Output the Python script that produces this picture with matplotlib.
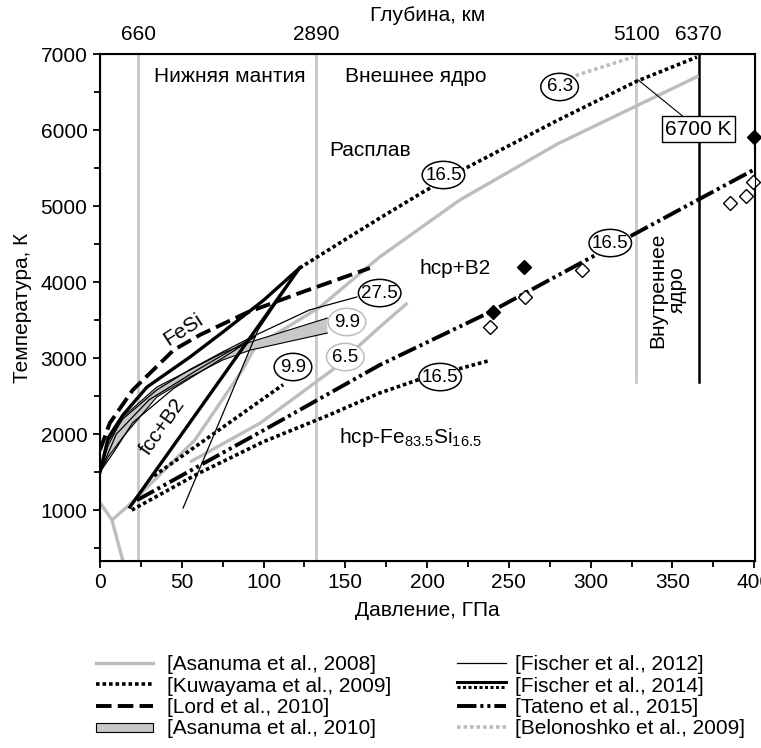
import matplotlib
matplotlib.use("Agg")
import matplotlib.pyplot as plt
import matplotlib.patches as mpatches
from matplotlib.lines import Line2D
from matplotlib.legend_handler import HandlerBase, HandlerPatch

plt.rcParams["font.family"] = ["Liberation Sans", "DejaVu Sans"]
plt.rcParams["mathtext.fontset"] = "custom"
plt.rcParams["mathtext.rm"] = "Liberation Sans"
plt.rcParams["mathtext.it"] = "Liberation Sans:italic"

FS = 15
GRAY = "#bdbdbd"
LGRAY = "#c8c8c8"

# depth scale along the top
DEPTH_P = [23.5, 132, 328, 366]
DEPTH_KM = ["660", "2890", "5100", "6370"]

# Asanuma et al., 2008
AS08_MAIN_P = [7.3, 17, 58, 87, 95, 134.5, 171, 220, 280, 366]
AS08_MAIN_T = [870, 1050, 1920, 2840, 3150, 3671, 4329, 5079, 5820, 6711]
AS08_LOW_P = [55, 98, 142, 171, 188]
AS08_LOW_T = [1632, 2145, 2842, 3408, 3724]
AS08_EDGE_P = [0, 7.3, 14]
AS08_EDGE_T = [1100, 870, 330]

# Asanuma et al., 2010 (band)
AS10_UP_P = [0, 5, 14, 34.7, 55, 75, 92, 139]
AS10_UP_T = [1500, 1850, 2224, 2618, 2842, 3066, 3211, 3526]
AS10_LO_P = [0, 5, 14, 34.7, 55, 75, 92, 139]
AS10_LO_T = [1500, 1700, 1960, 2487, 2750, 2974, 3105, 3329]

# Fischer et al., 2012
F12_A_P = [0, 5, 14, 34.7, 55, 75, 95, 128, 157]
F12_A_T = [1500, 1900, 2200, 2580, 2850, 3080, 3300, 3632, 3803]
F12_B_P = [0, 10, 30, 60, 95]
F12_B_T = [1500, 2000, 2450, 2850, 3290]
F12_C_P = [0, 8, 20, 45, 75, 95]
F12_C_T = [1500, 1750, 2150, 2600, 3000, 3280]
F12_D_P = [50.8, 96.6, 118]
F12_D_T = [1026, 3368, 4050]

# Fischer et al., 2014: measured (solid) and extrapolated (dotted)
F14_CURVE_P = [0, 5, 14, 28.7, 55, 75, 100, 122]
F14_CURVE_T = [1500, 1950, 2250, 2618, 3013, 3340, 3760, 4184]
F14_LINE_P = [18.3, 122]
F14_LINE_T = [1040, 4184]
F14_EXT_P = [122, 150, 171, 198, 222, 280, 328, 365]
F14_EXT_T = [4184, 4560, 4840, 5190, 5480, 6130, 6640, 6960]

# Kuwayama et al., 2009
KU_A_P = [33, 112]
KU_A_T = [1450, 2650]
KU_B_P = [19.4, 60, 100, 140, 171, 194, 237]
KU_B_T = [1000, 1480, 1900, 2250, 2540, 2710, 2960]

# Lord et al., 2010
LORD_P = [0, 6, 20, 45, 61, 90, 122, 165]
LORD_T = [1789, 2145, 2579, 3105, 3303, 3600, 3855, 4184]

# Tateno et al., 2015
TAT_P = [22.6, 100, 171, 238.5, 312, 400]
TAT_T = [1130, 2050, 2908, 3605, 4460, 5480]
TAT_OPEN_P = [238.5, 260, 295, 385, 395, 399.5]
TAT_OPEN_T = [3408, 3803, 4158, 5040, 5132, 5316]
TAT_FILL_P = [240, 259, 400]
TAT_FILL_T = [3605, 4197, 5908]

# Belonoshko et al., 2009
BEL_P = [287, 326]
BEL_T = [6690, 6960]

# Si content tags on the curves
TAGS_P = [281, 210, 171, 151, 150, 118, 312, 208]
TAGS_T = [6566, 5408, 3855, 3474, 3013, 2882, 4513, 2750]
TAGS_TXT = ["6.3", "16.5", "27.5", "9.9", "6.5", "9.9", "16.5", "16.5"]
TAGS_EC = ["black", "black", "black", GRAY, GRAY, "black", "black", "black"]

DOT = (0, (1, 0.8))
DASH = (0, (4, 1.6))
DASHDOT = (0, (5, 1, 0.8, 1, 0.8, 1))


class SolidOverDotted(HandlerBase):
    def create_artists(self, legend, orig_handle, xdescent, ydescent,
                       width, height, fontsize, trans):
        y = height / 2 - ydescent
        xs = [-xdescent, width - xdescent]
        top = Line2D(xs, [y + 1.8, y + 1.8], color="black", lw=2.2)
        bot = Line2D(xs, [y - 1.8, y - 1.8], color="black", lw=2.2, linestyle=DOT)
        top.set_transform(trans)
        bot.set_transform(trans)
        return [top, bot]


def thin_rect(legend, orig_handle, xdescent, ydescent, width, height, fontsize):
    return mpatches.Rectangle((-xdescent, height / 2 - ydescent - 3.2), width, 6.4)


fig = plt.figure(figsize=(7.61, 7.48), dpi=100)
ax = fig.add_axes([100 / 761, (748 - 561) / 748, 655 / 761, 507 / 748])
ax.set_xlim(0, 400.5)
ax.set_ylim(330, 7000)

# region boundaries
for p in DEPTH_P[:2]:
    ax.axvline(p, color=LGRAY, lw=2, zorder=1)
ax.plot([DEPTH_P[2]] * 2, [2680, 7000], color=LGRAY, lw=2, zorder=1)
ax.plot([DEPTH_P[3]] * 2, [2680, 7000], color="black", lw=1.8, zorder=1)

# Asanuma 2008
for xs, ys in [(AS08_MAIN_P, AS08_MAIN_T), (AS08_LOW_P, AS08_LOW_T), (AS08_EDGE_P, AS08_EDGE_T)]:
    ax.plot(xs, ys, color=GRAY, lw=2.4, zorder=2, solid_capstyle="butt")

# Asanuma 2010 band
ax.fill_between(AS10_UP_P, AS10_LO_T, AS10_UP_T, facecolor=LGRAY, edgecolor="none", zorder=2)
ax.plot(AS10_UP_P, AS10_UP_T, color="black", lw=0.8, zorder=3)
ax.plot(AS10_LO_P, AS10_LO_T, color="black", lw=0.8, zorder=3)

# Fischer 2012
for xs, ys in [(F12_A_P, F12_A_T), (F12_B_P, F12_B_T), (F12_C_P, F12_C_T), (F12_D_P, F12_D_T)]:
    ax.plot(xs, ys, color="black", lw=0.9, zorder=3)

# Fischer 2014
ax.plot(F14_CURVE_P, F14_CURVE_T, color="black", lw=2.4, zorder=4)
ax.plot(F14_LINE_P, F14_LINE_T, color="black", lw=2.4, zorder=4)
ax.plot(F14_EXT_P, F14_EXT_T, color="black", lw=2.6, linestyle=DOT, zorder=4)

# Kuwayama 2009
ax.plot(KU_A_P, KU_A_T, color="black", lw=2.6, linestyle=DOT, zorder=4)
ax.plot(KU_B_P, KU_B_T, color="black", lw=2.6, linestyle=DOT, zorder=4)

# Lord 2010
ax.plot(LORD_P, LORD_T, color="black", lw=2.8, linestyle=DASH, zorder=4)

# Tateno 2015
ax.plot(TAT_P, TAT_T, color="black", lw=2.8, linestyle=DASHDOT, zorder=4)
ax.plot(TAT_OPEN_P, TAT_OPEN_T, "D", ms=7, mfc="white", mec="black", mew=1, zorder=6, clip_on=False)
ax.plot(TAT_FILL_P, TAT_FILL_T, "D", ms=7, color="black", zorder=6, clip_on=False)

# Belonoshko 2009
ax.plot(BEL_P, BEL_T, color=GRAY, lw=2.6, linestyle=DOT, zorder=4)

# oval tags: width in GPa follows the label length, height in K
for p, t, s, ec in zip(TAGS_P, TAGS_T, TAGS_TXT, TAGS_EC):
    w = 26 if len(s) > 3 else 23
    ax.add_patch(mpatches.Ellipse((p, t), w, 360, fc="white", ec=ec, lw=1.1, zorder=7))
    ax.text(p, t, s, ha="center", va="center", fontsize=13.5, zorder=8)

ax.annotate("6700 K", xy=(329, 6660), xytext=(366, 6013), ha="center", va="center",
            fontsize=FS, zorder=8,
            bbox=dict(boxstyle="square,pad=0.15", fc="white", ec="black", lw=1),
            arrowprops=dict(arrowstyle="-", lw=0.8, color="black", shrinkA=0, shrinkB=0))

ax.text(79.5, 6700, "Нижняя мантия", ha="center", va="center", fontsize=FS)
ax.text(193, 6700, "Внешнее ядро", ha="center", va="center", fontsize=FS)
ax.text(165, 5737, "Расплав", ha="center", va="center", fontsize=FS)
ax.text(217, 4184, "hcp+B2", ha="center", va="center", fontsize=FS)
ax.text(51, 3368, "FeSi", ha="center", va="center", fontsize=FS, rotation=33)
ax.text(38, 2092, "fcc+B2", ha="center", va="center", fontsize=FS, rotation=55)
ax.text(190, 1960, "hcp-Fe$_{83.5}$Si$_{16.5}$", ha="center", va="center", fontsize=FS)
ax.text(347, 3895, "Внутреннее\nядро", ha="center", va="center", fontsize=FS,
        rotation=90, multialignment="center", linespacing=1.0)

ax.set_xticks(range(0, 401, 50))
ax.set_xticks(range(25, 400, 50), minor=True)
ax.set_yticks(range(1000, 7001, 1000))
ax.set_yticks(range(500, 7000, 1000), minor=True)
ax.tick_params(which="major", direction="out", length=5, width=1.3, labelsize=FS, pad=4)
ax.tick_params(which="minor", direction="out", length=4, width=1.3)
for sp in ax.spines.values():
    sp.set_linewidth(1.5)
ax.set_xlabel("Давление, ГПа", fontsize=FS, labelpad=6)
ax.set_ylabel("Температура, К", fontsize=FS, labelpad=6)

top = ax.twiny()
top.set_xlim(ax.get_xlim())
top.set_xticks(DEPTH_P)
top.set_xticklabels(DEPTH_KM)
top.tick_params(length=0, labelsize=FS, pad=7)
top.set_xlabel("Глубина, км", fontsize=FS, labelpad=3)

# two legend columns, each placed on its own
f14 = Line2D([], [], color="black")
band = mpatches.Patch(facecolor=LGRAY, edgecolor="black", lw=0.8)
left_handles = [
    Line2D([], [], color=GRAY, lw=2.4),
    Line2D([], [], color="black", lw=2.6, linestyle=DOT),
    Line2D([], [], color="black", lw=2.8, linestyle=DASH),
    band,
]
left_labels = ["[Asanuma et al., 2008]", "[Kuwayama et al., 2009]", "[Lord et al., 2010]",
               "[Asanuma et al., 2010]"]
right_handles = [
    Line2D([], [], color="black", lw=0.9),
    f14,
    Line2D([], [], color="black", lw=2.8, linestyle=DASHDOT),
    Line2D([], [], color=GRAY, lw=2.6, linestyle=DOT),
]
right_labels = ["[Fischer et al., 2012]", "[Fischer et al., 2014]",
                "[Tateno et al., 2015]", "[Belonoshko et al., 2009]"]
leg_kw = dict(loc="upper left", frameon=False, fontsize=FS, labelspacing=0.12,
              borderaxespad=0, borderpad=0)
fig.legend(left_handles, left_labels, bbox_to_anchor=(96 / 761, 1 - 655 / 748),
           handlelength=2.75, handletextpad=0.65,
           handler_map={band: HandlerPatch(patch_func=thin_rect)}, **leg_kw)
fig.legend(right_handles, right_labels, bbox_to_anchor=(457 / 761, 1 - 655 / 748),
           handlelength=2.35, handletextpad=0.45,
           handler_map={f14: SolidOverDotted()}, **leg_kw)

fig.savefig("out.png", dpi=100)
